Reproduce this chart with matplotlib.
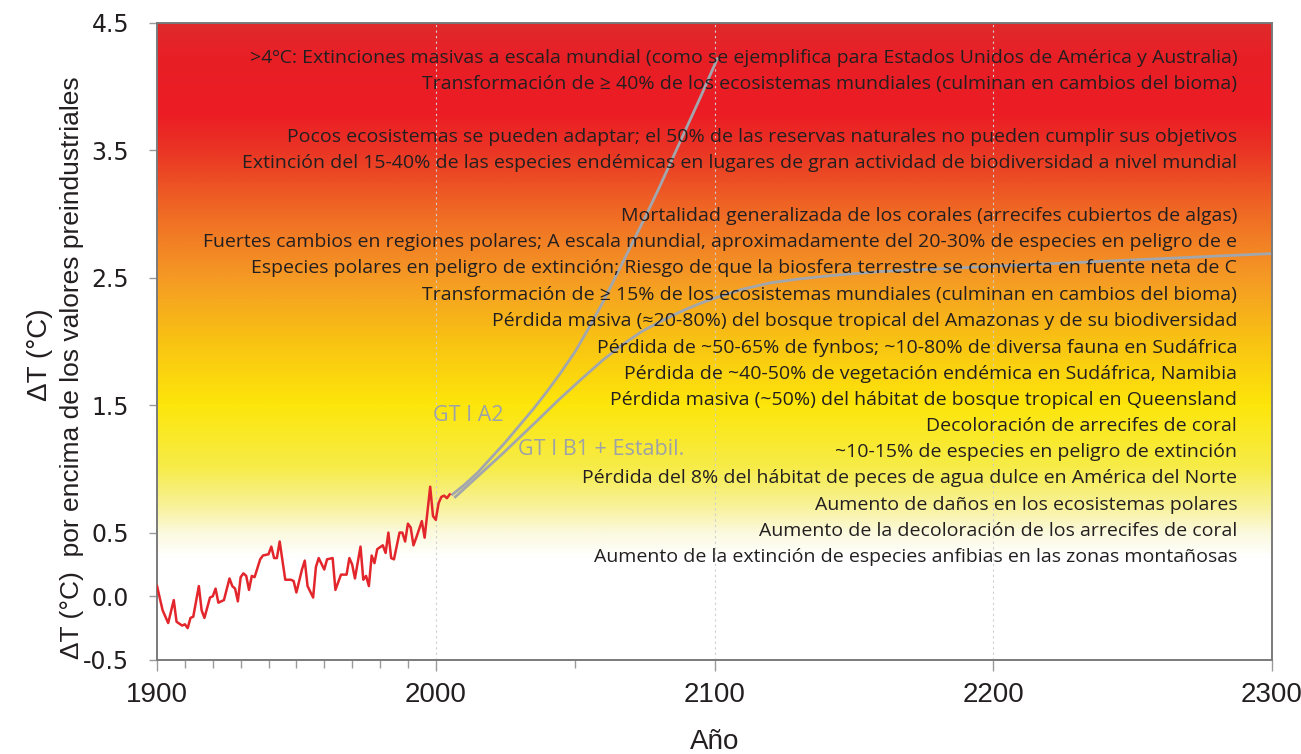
import matplotlib
matplotlib.use('Agg')
import matplotlib.pyplot as plt
import numpy as np
from matplotlib.colors import LinearSegmentedColormap
from matplotlib.ticker import FixedLocator

# observed record
years = [1900, 1902, 1904, 1906, 1907, 1909, 1910, 1911, 1912, 1913, 1915, 1916,
         1917, 1919, 1920, 1921, 1922, 1924, 1926, 1927, 1928, 1929, 1930, 1931,
         1932, 1933, 1934, 1935, 1937, 1938, 1940, 1941, 1942, 1943, 1944, 1946,
         1948, 1949, 1950, 1951, 1952, 1953, 1954, 1956, 1957, 1958, 1960, 1961,
         1963, 1964, 1966, 1968, 1969, 1970, 1971, 1973, 1974, 1975, 1976, 1977,
         1978, 1979, 1981, 1982, 1983, 1984, 1985, 1987, 1988, 1989, 1990, 1991,
         1992, 1993, 1995, 1996, 1998, 1999, 2000, 2001, 2002, 2003, 2004, 2005]
temps = [0.08, -0.11, -0.21, -0.03, -0.20, -0.23, -0.22, -0.25, -0.17, -0.16, 0.08, -0.11,
         -0.17, -0.01, 0.00, 0.06, -0.05, -0.03, 0.14, 0.08, 0.06, -0.04, 0.15, 0.18,
         0.16, 0.05, 0.16, 0.15, 0.29, 0.32, 0.33, 0.39, 0.30, 0.30, 0.43, 0.13,
         0.13, 0.12, 0.03, 0.12, 0.21, 0.28, 0.08, -0.01, 0.23, 0.30, 0.21, 0.29,
         0.30, 0.05, 0.17, 0.17, 0.30, 0.25, 0.14, 0.39, 0.13, 0.16, 0.08, 0.32,
         0.26, 0.37, 0.40, 0.34, 0.50, 0.30, 0.29, 0.50, 0.50, 0.43, 0.57, 0.54,
         0.40, 0.46, 0.59, 0.46, 0.86, 0.63, 0.60, 0.73, 0.78, 0.79, 0.77, 0.80]

# scenario projections
a2_years = [2006, 2010, 2015, 2020, 2025, 2030, 2035, 2040, 2045, 2050, 2055, 2060,
            2065, 2070, 2075, 2080, 2085, 2090, 2095, 2101]
a2_temps = [0.80, 0.87, 0.97, 1.09, 1.21, 1.34, 1.47, 1.61, 1.76, 1.92, 2.11, 2.31,
            2.53, 2.75, 2.97, 3.20, 3.44, 3.68, 3.92, 4.22]
b1_years = [2007, 2012, 2018, 2024, 2030, 2036, 2044, 2052, 2060, 2067, 2074, 2080,
            2085, 2090, 2095, 2100, 2110, 2120, 2130, 2143, 2160, 2180, 2200, 2220,
            2240, 2260, 2280, 2300]
b1_temps = [0.78, 0.88, 1.00, 1.12, 1.245, 1.37, 1.54, 1.70, 1.855, 1.975, 2.08, 2.15,
            2.205, 2.255, 2.30, 2.34, 2.41, 2.46, 2.49, 2.52, 2.55, 2.57, 2.59, 2.61,
            2.63, 2.65, 2.67, 2.69]

impacts = [
    ">4ºC: Extinciones masivas a escala mundial (como se ejemplifica para Estados Unidos de América y Australia)",
    "Transformación de ≥ 40% de los ecosistemas mundiales (culminan en cambios del bioma)",
    "Pocos ecosistemas se pueden adaptar; el 50% de las reservas naturales no pueden cumplir sus objetivos",
    "Extinción del 15-40% de las especies endémicas en lugares de gran actividad de biodiversidad a nivel mundial",
    "Mortalidad generalizada de los corales (arrecifes cubiertos de algas)",
    "Fuertes cambios en regiones polares; A escala mundial, aproximadamente del 20-30% de especies en peligro de e",
    "Especies polares en peligro de extinción; Riesgo de que la biosfera terrestre se convierta en fuente neta de C",
    "Transformación de ≥ 15% de los ecosistemas mundiales (culminan en cambios del bioma)",
    "Pérdida masiva (≈20-80%) del bosque tropical del Amazonas y de su biodiversidad",
    "Pérdida de ~50-65% de fynbos; ~10-80% de diversa fauna en Sudáfrica",
    "Pérdida de ~40-50% de vegetación endémica en Sudáfrica, Namibia",
    "Pérdida masiva (~50%) del hábitat de bosque tropical en Queensland",
    "Decoloración de arrecifes de coral",
    "~10-15% de especies en peligro de extinción",
    "Pérdida del 8% del hábitat de peces de agua dulce en América del Norte",
    "Aumento de daños en los ecosistemas polares",
    "Aumento de la decoloración de los arrecifes de coral",
    "Aumento de la extinción de especies anfibias en las zonas montañosas",
]
impact_y = [4.225, 4.021, 3.605, 3.401, 2.985, 2.781, 2.577, 2.365, 2.161, 1.949,
            1.745, 1.541, 1.337, 1.133, 0.929, 0.717, 0.513, 0.309]

y_ticks = [-0.5, 0.0, 0.5, 1.5, 2.5, 3.5, 4.5]
x_ticks = [1900, 2000, 2100, 2200, 2300]
x_minor = [1910, 1920, 1930, 1940, 1950, 1960, 1970, 1980, 1990, 2050]

NARROW = ['Liberation Sans', 'DejaVu Sans']
BODY = ['Open Sans', 'DejaVu Sans']

fig = plt.figure(figsize=(13.01, 7.54), dpi=100)
ax = fig.add_axes([0.1207, 0.1247, 0.8570, 0.8448])
ax.set_xlim(1900, 2300)
ax.set_ylim(-0.5, 4.5)

# warming background
cmap = LinearSegmentedColormap.from_list('heat', [
    (0.00, '#ffffff'), (0.16, '#ffffff'), (0.20, '#fbf9dc'), (0.24, '#f8f29a'),
    (0.30, '#f6ec4a'), (0.40, '#fde60a'), (0.50, '#f9c313'), (0.60, '#f59a24'),
    (0.70, '#f06c24'), (0.80, '#ea3524'), (0.86, '#ec1c24'), (0.95, '#e81f26'),
    (1.00, '#df2a2b')])
grad = np.linspace(0, 1, 512).reshape(-1, 1)
ax.imshow(grad, cmap=cmap, origin='lower', aspect='auto',
          extent=(1900, 2300, -0.5, 4.5), zorder=0)

for gx in [2000, 2100, 2200]:
    ax.axvline(gx, color='#cfcfcf', lw=0.8, ls=(0, (2, 3)), zorder=1)

ax.plot(years, temps, color='#e3262b', lw=1.8, zorder=3)
ax.plot(a2_years, a2_temps, color='#a2a6ad', lw=2, zorder=2)
ax.plot(b1_years, b1_temps, color='#a2a6ad', lw=2, zorder=2)

ax.text(1999, 1.42, 'GT I A2', color='#9da1a8', fontsize=15.5,
        family=BODY, va='center')
ax.text(2029.5, 1.155, 'GT I B1 + Estabil.', color='#9da1a8', fontsize=15.5,
        family=BODY, va='center')

for txt, ty in zip(impacts, impact_y):
    ax.text(2287.5, ty, txt, ha='right', va='center', fontsize=14,
            color='#231f20', family=BODY, zorder=4)

ax.set_yticks(y_ticks)
ax.set_yticklabels([f'{v:.1f}' for v in y_ticks])
ax.set_xticks(x_ticks)
ax.xaxis.set_minor_locator(FixedLocator(x_minor))
for lab in ax.get_yticklabels():
    lab.set_fontsize(17)
    lab.set_family(['DejaVu Sans'])
    lab.set_color('#231f20')
for lab in ax.get_xticklabels():
    lab.set_fontsize(20)
    lab.set_family(NARROW)
    lab.set_color('#231f20')
ax.tick_params(axis='both', which='both', color='#9a9a9a', direction='out')
ax.tick_params(axis='y', length=6, width=1, pad=14)
ax.tick_params(axis='x', which='major', length=8, width=1, pad=8)
ax.tick_params(axis='x', which='minor', length=6, width=1)

for side in ['left', 'bottom', 'top', 'right']:
    ax.spines[side].set_color('#7a7a7a')
    ax.spines[side].set_linewidth(1.4)

ax.set_xlabel('Año', fontsize=20, family=NARROW, color='#231f20', labelpad=15)
fig.text(0.031, 0.529, 'ΔT (°C)', rotation=90, ha='center', va='center',
         fontsize=20, family=NARROW, color='#231f20')
fig.text(0.055, 0.512, 'ΔT (°C)  por encima de los valores preindustriales', rotation=90,
         ha='center', va='center', fontsize=19, family=NARROW, color='#231f20')

fig.savefig('out.png', dpi=100)
